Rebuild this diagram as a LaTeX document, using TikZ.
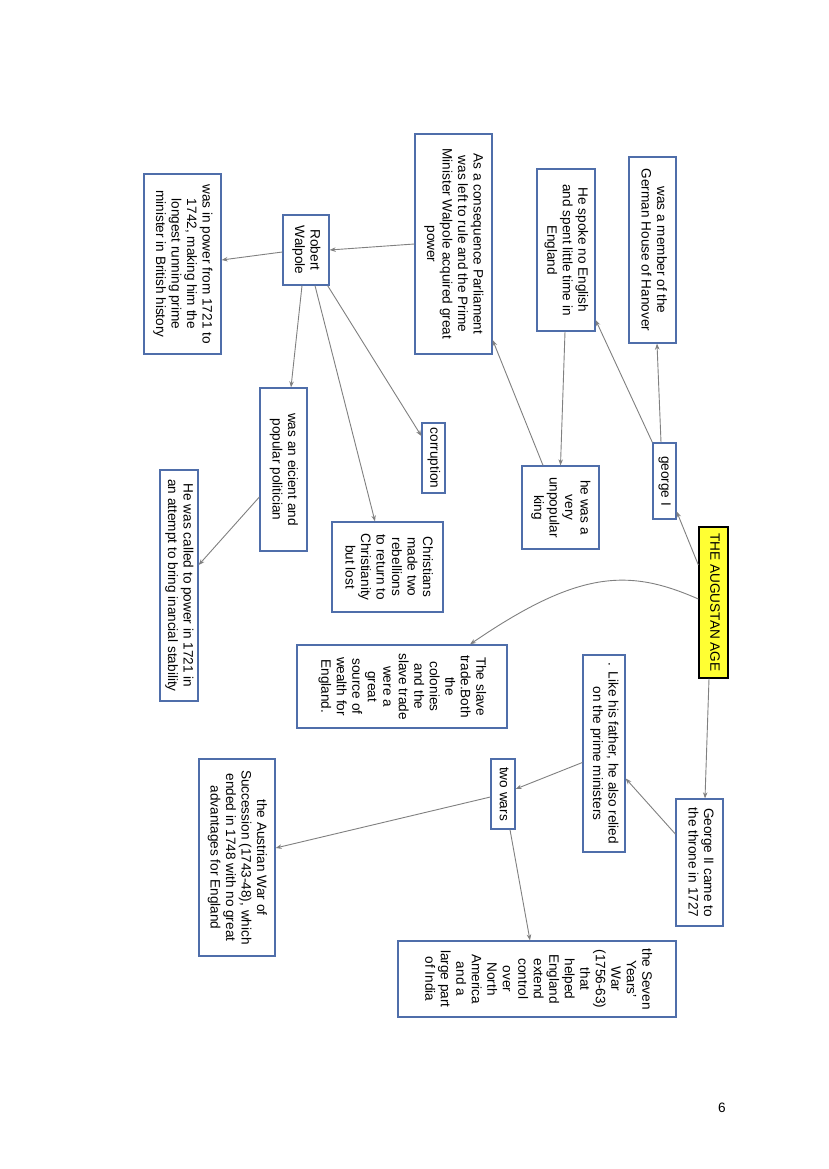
\documentclass[tikz,border=0pt]{standalone}
\usepackage{fontspec}
\setmainfont{Liberation Sans}
\usetikzlibrary{arrows.meta,calc}
\definecolor{boxblue}{RGB}{79,110,170}
\definecolor{edgegrey}{RGB}{128,128,128}
\definecolor{titleyellow}{RGB}{255,255,51}
\newcommand{\rtext}[1]{\rotatebox{-90}{\begin{tabular}{@{}c@{}}#1\end{tabular}}}
\tikzset{
  cbox/.style={draw=boxblue, line width=1.3pt, fill=white, inner sep=0pt, font=\fontsize{13.6}{15.5}\selectfont},
  tbox/.style={draw=black, line width=1.3pt, fill=titleyellow, inner sep=0pt, font=\fontsize{13.6}{15.5}\selectfont},
  link/.style={draw=edgegrey, line width=0.9pt, -{Stealth[length=6pt,width=4.5pt]}}
}
\begin{document}
\begin{tikzpicture}[x=1pt,y=-1pt]
\useasboundingbox[fill=white] (0,0) rectangle (828,1169);
% nodes (center, width = horizontal extent, height = vertical extent)
\node[cbox, minimum width=47pt, minimum height=186pt] (hanover) at (652.5,250) {\rtext{was a member of the\\German House of Hanover}};
\node[cbox, minimum width=58pt, minimum height=162pt] (english) at (566,250) {\rtext{He spoke no English\\and spent little time in\\England}};
\node[cbox, minimum width=77pt, minimum height=220pt] (parliament) at (453.5,244) {\rtext{As a consequence Parliament\\was left to rule and the Prime\\Minister Walpole acquired great\\power}};
\node[cbox, minimum width=46pt, minimum height=70pt] (walpole) at (306,250) {\rtext{Robert\\Walpole}};
\node[cbox, minimum width=77pt, minimum height=180pt] (power) at (182.5,264) {\rtext{was in power from 1721 to\\1742, making him the\\longest running prime\\minister in British history}};
\node[cbox, minimum width=47pt, minimum height=163pt] (efficient) at (283.5,469.5) {\rtext{was an eicient and\\popular politician}};
\node[cbox, minimum width=23pt, minimum height=70pt] (corruption) at (433.5,458) {\rtext{corruption}};
\node[cbox, minimum width=111pt, minimum height=90pt] (christians) at (387.5,567) {\rtext{Christians\\made two\\rebellions\\to return to\\Christianity\\but lost}};
\node[cbox, minimum width=38pt, minimum height=231pt] (called) at (179,585.5) {\rtext{He was called to power in 1721 in\\an attempt to bring inancial stability}};
\node[cbox, minimum width=77pt, minimum height=83pt] (unpopular) at (560.5,507.5) {\rtext{he was a\\very\\unpopular\\king}};
\node[cbox, minimum width=23pt, minimum height=76pt] (george) at (664.5,481) {\rtext{george I}};
\node[tbox, minimum width=29pt, minimum height=151pt] (augustan) at (713.5,602.5) {\rtext{THE AUGUSTAN AGE}};
\node[cbox, minimum width=210pt, minimum height=83pt] (slave) at (402,686.5) {\rtext{The slave\\trade.Both\\the\\colonies\\and the\\slave trade\\were a\\great\\source of\\wealth for\\England.}};
\node[cbox, minimum width=42pt, minimum height=197pt] (father) at (604,753.5) {\rtext{. Like his father, he also relied\\on the prime ministers}};
\node[cbox, minimum width=24pt, minimum height=70pt] (twowars) at (503,794) {\rtext{two wars}};
\node[cbox, minimum width=47pt, minimum height=127pt] (georgeii) at (699.5,862.5) {\rtext{George II came to\\the throne in 1727}};
\node[cbox, minimum width=278pt, minimum height=76pt] (seven) at (537,979) {\rtext{the Seven\\Years'\\War\\(1756-63)\\that\\helped\\England\\extend\\control\\over\\North\\America\\and a\\large part\\of India}};
\node[cbox, minimum width=76pt, minimum height=197pt] (austrian) at (237,857.5) {\rtext{the Austrian War of\\Succession (1743-48), which\\ended in 1748 with no great\\advantages for England}};
\node[font=\fontsize{13.6}{15.5}\selectfont] (pagenum) at (722,1108) {6};
% connectors
\draw[link] ([xshift=-3.5pt]george.north) -- ([xshift=4.5pt]hanover.south);
\draw[link] (george.north west) -- ([yshift=-70pt]english.east);
\draw[link] ([xshift=-1pt]english.south) -- (unpopular.north);
\draw[link] ([xshift=-17.5pt]unpopular.north) -- ([yshift=-96pt]parliament.east);
\draw[link] (parliament.west) -- (walpole.east);
\draw[link] ([yshift=-2pt]walpole.west) -- ([yshift=4pt]power.east);
\draw[link] ([xshift=-4pt]walpole.south) -- ([xshift=7.5pt]efficient.north);
\draw[link] ([xshift=9pt]walpole.south) -- ([xshift=-12.5pt]christians.north);
\draw[link] ([xshift=-2pt]walpole.south east) -- ([yshift=22pt]corruption.west);
\draw[link] ([yshift=-27.5pt]efficient.west) -- ([yshift=20.5pt]called.east);
\draw[link] ([yshift=37.5pt]augustan.west) -- ([yshift=-30.5pt]george.east);
\draw[link] ([yshift=3.5pt]augustan.west) .. controls (630,569) and (580,569) .. ([xshift=68pt]slave.north);
\draw[link] ([xshift=-4.5pt]augustan.south) -- ([xshift=5.5pt]georgeii.north);
\draw[link] ([yshift=28.5pt]georgeii.west) -- ([yshift=-25pt]father.east);
\draw[link] ([yshift=-9pt]father.west) -- ([yshift=5pt]twowars.east);
\draw[link] ([xshift=7pt]twowars.south) -- ([xshift=-7pt]seven.north);
\draw[link] ([yshift=-3pt]twowars.west) -- ([yshift=9.5pt]austrian.east);
\end{tikzpicture}
\end{document}
